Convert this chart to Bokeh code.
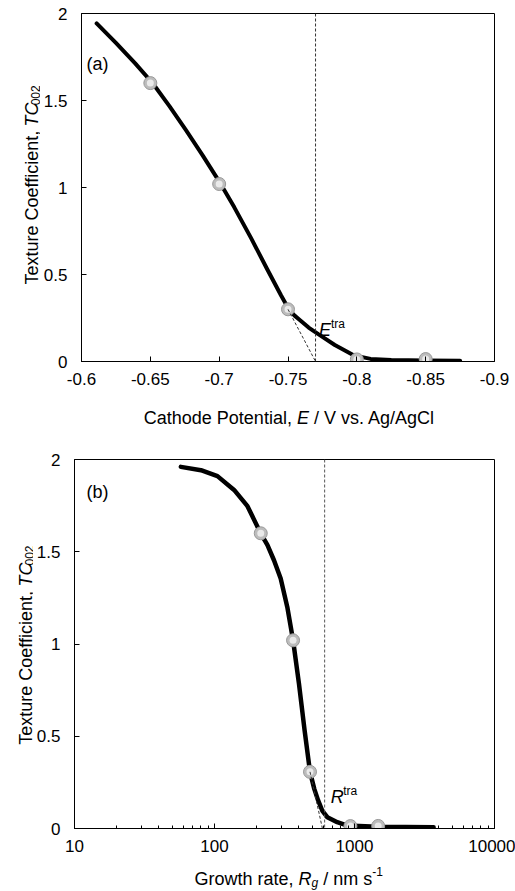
from bokeh.plotting import figure
from bokeh.models import Range1d, FixedTicker, NumeralTickFormatter, Span, Label
from bokeh.layouts import column, row
from bokeh.core.properties import value
from bokeh.embed import file_html
from bokeh.resources import INLINE

# ---------------- data: panel (a) ----------------
potential_pts = [-0.65, -0.70, -0.75, -0.80, -0.85]
tc_pts_a = [1.60, 1.02, 0.30, 0.012, 0.014]
potential_fit = [-0.611, -0.625, -0.639, -0.652, -0.664, -0.676, -0.688, -0.701, -0.711,
                 -0.723, -0.735, -0.745, -0.751, -0.755, -0.759, -0.765, -0.772, -0.784,
                 -0.798, -0.810, -0.825, -0.850, -0.875]
tc_fit_a = [1.943, 1.831, 1.713, 1.596, 1.466, 1.328, 1.185, 1.022, 0.886,
            0.712, 0.529, 0.379, 0.295, 0.262, 0.236, 0.195, 0.157, 0.095,
            0.035, 0.015, 0.008, 0.006, 0.005]
E_tra = -0.770
tangent_a_x = [-0.750, -0.770]
tangent_a_y = [0.30, 0.0]
x_ticks_a = [-0.6, -0.65, -0.7, -0.75, -0.8, -0.85, -0.9]
y_ticks = [0, 0.5, 1, 1.5, 2]

# ---------------- data: panel (b) ----------------
rate_pts = [214, 364, 481, 935, 1476]
tc_pts_b = [1.60, 1.02, 0.307, 0.013, 0.014]
rate_fit = [57.5, 80, 105, 138, 172, 214, 239, 266, 297, 331, 364, 401, 440, 481,
            516, 548, 590, 640, 753, 889, 1449, 3673]
tc_fit_b = [1.960, 1.942, 1.910, 1.835, 1.747, 1.599, 1.536, 1.454, 1.355, 1.201,
            1.021, 0.786, 0.533, 0.307, 0.215, 0.155, 0.095, 0.061, 0.034, 0.016,
            0.010, 0.007]
R_tra = 612
tangent_b_x = [481, 590]
tangent_b_y = [0.307, 0.0]
x_ticks_b = [10, 100, 1000, 10000]
x_minor_b = [20, 30, 40, 50, 60, 70, 80, 90,
             200, 300, 400, 500, 600, 700, 800, 900,
             2000, 3000, 4000, 5000, 6000, 7000, 8000, 9000]

FONT = "Liberation Sans"
# Arial / Liberation Sans advance widths (1/1000 em), for placing rich-text pieces
W = {' ': 278, ',': 278, '.': 278, '/': 278, '-': 333, '(': 333, ')': 333,
     'A': 667, 'C': 722, 'E': 667, 'G': 778, 'P': 667, 'R': 722, 'T': 611, 'V': 667,
     'a': 556, 'b': 556, 'c': 500, 'd': 556, 'e': 556, 'f': 278, 'g': 556, 'h': 556,
     'i': 222, 'l': 222, 'm': 833, 'n': 556, 'o': 556, 'r': 333, 's': 500, 't': 278,
     'u': 556, 'v': 500, 'w': 722, 'x': 500, 'y': 500}


def tw(s, size):
    return sum(W.get(c, 556) for c in s) * size / 1000.0


def lab(p, text, x, y, size=18, style="normal", units="screen", x_off=0, y_off=0):
    p.add_layout(Label(x=x, y=y, x_units=units, y_units=units, text=text,
                       x_offset=x_off, y_offset=y_off,
                       text_font=FONT, text_font_size=f"{size}px",
                       text_font_style=style, text_align="left",
                       text_baseline="alphabetic", text_color="#000000"))


def style_fig(p):
    p.grid.visible = False
    p.outline_line_color = "#000000"
    p.outline_line_alpha = 1.0
    p.outline_line_width = 1
    p.background_fill_color = "white"
    p.border_fill_color = "white"
    for ax in p.axis:
        ax.axis_line_color = "#000000"
        ax.major_tick_line_color = "#000000"
        ax.minor_tick_line_color = "#000000"
        ax.major_tick_in = 5
        ax.major_tick_out = 0
        ax.minor_tick_in = 3
        ax.minor_tick_out = 0
        ax.major_label_text_font = FONT
        ax.major_label_text_font_size = "17px"
        ax.major_label_text_color = "#000000"
    p.yaxis.major_label_standoff = 14
    p.xaxis.major_label_standoff = 11
    p.yaxis.ticker = FixedTicker(ticks=y_ticks)
    p.yaxis.formatter = NumeralTickFormatter(format="0.[0]")


def markers(p, xs, ys):
    p.scatter(xs, ys, size=13, fill_color="#bcbcbc", line_color="#999999", line_width=1)
    p.scatter(xs, ys, size=7, fill_color="#eeeeee", line_color=None, fill_alpha=0.9)


def text_fig(w, h):
    f = figure(width=w, height=h, output_backend="svg", toolbar_location=None,
               title=None, x_range=Range1d(0, w), y_range=Range1d(0, h), min_border=0,
               x_axis_location=None, y_axis_location=None)
    f.grid.visible = False
    f.outline_line_color = None
    f.background_fill_color = "white"
    f.border_fill_color = "white"
    return f


def put(f, s, x, y, size=18, style="normal", angle=0.0, align="left"):
    f.text(x=[x], y=[y], text=[s], angle=angle, text_font=value(FONT),
           text_font_size=value(f"{size}px"), text_font_style=style,
           text_align=align, text_baseline="alphabetic", text_color="#000000")


def ytitle(f, h, x_base, center_from_top):
    # rotated title, reading upward; pieces joined at the start of "TC"
    w_main = tw("Texture Coefficient, ", 18)
    w_tc = tw("TC", 18)
    w_sub = tw("002", 12)
    top_end = center_from_top - (w_main + w_tc + w_sub) / 2
    tc_start = h - (top_end + w_tc + w_sub)          # y (upward) where "TC" begins
    ang = 1.5707963267948966
    put(f, "Texture Coefficient,", x_base, tc_start - tw(" ", 18), angle=ang, align="right")
    put(f, "TC", x_base, tc_start, style="italic", angle=ang)
    put(f, "002", x_base + 4, tc_start + w_tc, size=12, angle=ang)


# ---------------- figure (a) ----------------
pa = figure(width=475, height=396, output_backend="svg", toolbar_location=None,
            title=None, x_range=Range1d(-0.6, -0.9), y_range=Range1d(0, 2),
            min_border_left=40, min_border_right=21, min_border_top=13,
            min_border_bottom=35)
style_fig(pa)
pa.xaxis.ticker = FixedTicker(ticks=x_ticks_a)
pa.xaxis.formatter = NumeralTickFormatter(format="0.[00]")

pa.add_layout(Span(location=E_tra, dimension="height", line_color="#333333",
                   line_width=1, line_dash="3 2"))
pa.line(potential_fit, tc_fit_a, line_color="#000000", line_width=4,
        line_join="round", line_cap="round")
markers(pa, potential_pts, tc_pts_a)
pa.line(tangent_a_x, tangent_a_y, line_color="#333333", line_width=1, line_dash="3 2")
lab(pa, "(a)", 5, 298)
lab(pa, "E", -0.7725, 0.18, units="data", style="italic")
lab(pa, "tra", -0.7725, 0.18, units="data", size=12, x_off=12, y_off=6)

ya = text_fig(40, 396)
ytitle(ya, 396, 31, 187)

xa = text_fig(515, 44)
xE = 143.3 + tw("Cathode Potential, ", 18)
put(xa, "Cathode Potential,", xE - tw(" ", 18), 22.3, align="right")
put(xa, "E", xE, 22.3, style="italic")
put(xa, "/ V vs. Ag/AgCl", xE + tw("E ", 18), 22.3)

# ---------------- figure (b) ----------------
pb = figure(width=482, height=421, output_backend="svg", toolbar_location=None,
            title=None, x_axis_type="log", x_range=Range1d(10, 10000), y_range=Range1d(0, 2),
            min_border_left=40, min_border_right=21, min_border_top=19,
            min_border_bottom=33)
style_fig(pb)
pb.xaxis.ticker = FixedTicker(ticks=x_ticks_b, minor_ticks=x_minor_b)
pb.xaxis.formatter = NumeralTickFormatter(format="0")

pb.add_layout(Span(location=R_tra, dimension="height", line_color="#555555",
                   line_width=1, line_dash="3 2"))
pb.line(rate_fit, tc_fit_b, line_color="#000000", line_width=4.5,
        line_join="round", line_cap="round")
markers(pb, rate_pts, tc_pts_b)
pb.line(tangent_b_x, tangent_b_y, line_color="#333333", line_width=1, line_dash="3 2")
lab(pb, "(b)", 12, 337)
lab(pb, "R", 676, 0.17, units="data", style="italic")
lab(pb, "tra", 676, 0.17, units="data", size=12, x_off=12.5, y_off=6)

yb = text_fig(33, 421)
ytitle(yb, 421, 25, 203.5)

xb = text_fig(515, 29)
base = 12
xR = 298
put(xb, "Growth rate,", xR - tw(" ", 18), base, align="right")
put(xb, "R", xR, base, style="italic")
o = xR + tw("R", 18)
put(xb, "g", o, base - 4, size=12, style="italic")
o += tw("g", 12) + tw(" ", 18)
put(xb, "/ nm s", o, base)
o += tw("/ nm s", 18)
put(xb, "-1", o, base + 7, size=12)

layout = column(row(ya, pa, spacing=0), xa, row(yb, pb, spacing=0), xb, spacing=0)
open("out.html", "w").write(file_html(layout, INLINE))
